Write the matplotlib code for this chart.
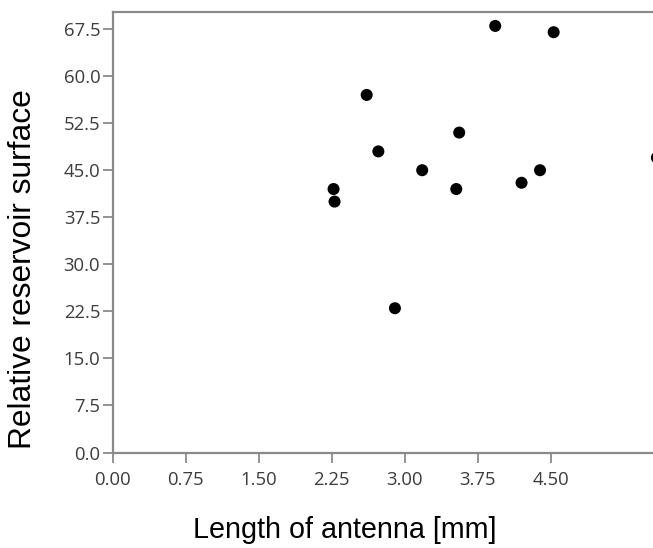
import matplotlib
matplotlib.use("Agg")
import matplotlib.pyplot as plt

# Data
antenna_length = [3.93, 4.53, 2.61, 3.56, 2.73, 3.18, 4.39, 4.20, 3.53, 2.27, 2.28, 2.90, 5.59]
reservoir_surface = [68.0, 67.0, 57.0, 51.0, 48.0, 45.0, 45.0, 43.0, 42.0, 42.0, 40.0, 23.0, 47.0]
x_ticks = [0.00, 0.75, 1.50, 2.25, 3.00, 3.75, 4.50]
y_ticks = [0.0, 7.5, 15.0, 22.5, 30.0, 37.5, 45.0, 52.5, 60.0, 67.5]

fig = plt.figure(figsize=(6.53, 5.48), dpi=100)
ax = fig.add_axes([112.5 / 653, 1 - 452.5 / 548, 1 - 112.5 / 653, (452.5 - 11.5) / 548])

ax.scatter(antenna_length, reservoir_surface, s=75, color="black", edgecolors="none", zorder=3)

ax.set_xlim(0, 5.55)
ax.set_ylim(0, 70.3)
ax.set_xticks(x_ticks)
ax.set_xticklabels([f"{v:.2f}" for v in x_ticks])
ax.set_yticks(y_ticks)
ax.set_yticklabels([f"{v:.1f}" for v in y_ticks])

spine_color = "#8a8a8a"
for side in ["left", "bottom", "top"]:
    ax.spines[side].set_color(spine_color)
    ax.spines[side].set_linewidth(1.6)
ax.spines["right"].set_visible(False)

ax.tick_params(axis="both", direction="out", length=7.3, width=1.3, color=spine_color,
               labelcolor="#3c3c3c", labelsize=13.3)
ax.tick_params(axis="y", pad=1.5)
ax.tick_params(axis="x", pad=6)
for lab in ax.get_xticklabels() + ax.get_yticklabels():
    lab.set_family(["Open Sans", "DejaVu Sans"])

ax.set_xlabel("Length of antenna [mm]", fontsize=20.7, family=["Liberation Sans", "DejaVu Sans"], color="black")
ax.set_ylabel("Relative reservoir surface", fontsize=22.9, family=["Liberation Sans", "DejaVu Sans"], color="black")
ax.xaxis.label.set_va("center")
ax.yaxis.label.set_va("center")
ax.xaxis.set_label_coords(0.43, -0.176)
ax.yaxis.set_label_coords(-0.166, 0.415)

fig.savefig("out.png", dpi=100)
